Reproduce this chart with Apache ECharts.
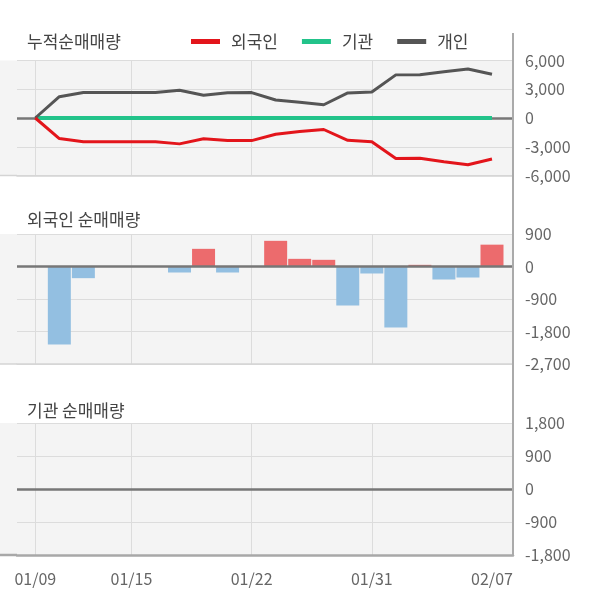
<!DOCTYPE html>
<html>
<head>
<meta charset="utf-8">
<script src="https://cdn.jsdelivr.net/npm/echarts@6/dist/echarts.min.js"></script>
<style>
html,body{margin:0;padding:0;background:#fff;}
#chart{width:600px;height:604px;}
</style>
</head>
<body>
<div id="chart"></div>
<script>
// ---- data ----
const dates = ['01/09','01/10','01/13','01/14','01/15','01/16','01/17','01/20','01/21','01/22',
               '01/23','01/28','01/29','01/30','01/31','02/03','02/04','02/05','02/06','02/07'];
const labelIdx = [0, 4, 9, 14, 19];
const gridIdx = [0, 4, 9, 14];

const foreignCum = [0, -2150, -2470, -2470, -2470, -2470, -2700, -2170, -2360, -2360,
                    -1700, -1420, -1200, -2330, -2470, -4220, -4200, -4560, -4880, -4280];
const institutionCum = [0, 0, 0, 0, 0, 0, 0, 0, 0, 0, 0, 0, 0, 0, 0, 0, 0, 0, 0, 0];
const individualCum = [0, 2220, 2660, 2660, 2660, 2660, 2900, 2380, 2640, 2650,
                       1880, 1640, 1380, 2620, 2720, 4500, 4520, 4830, 5110, 4560];

const foreignDaily = [0, -2162, -323, 0, 0, 0, -166, 489, -166, 0,
                      711, 212, 185, -1080, -194, -1689, 46, -360, -305, 605];
const institutionDaily = [0, 0, 0, 0, 0, 0, 0, 0, 0, 0, 0, 0, 0, 0, 0, 0, 0, 0, 0, 0];

const ticksTop = [-6000, 6000, 3000];
const ticksMid = [-2700, 900, 900];
const ticksBot = [-1800, 1800, 900];

const seriesNames = ['외국인', '기관', '개인'];
const titles = ['누적순매매량', '외국인 순매매량', '기관 순매매량'];

// ---- styles ----
const FONT = 'Noto Sans CJK KR';
const BG = '#f4f4f4';
const GRID_LINE = '#dcdcdc';
const RED = '#e3151b', GREEN = '#22c38a', GRAY = '#555555';
const BAR_POS = '#ec6b6d', BAR_NEG = '#93bfe1';

const grids = [
  {left: 17, right: 87, top: 60.5, height: 115},
  {left: 17, right: 87, top: 234, height: 130},
  {left: 17, right: 87, top: 423, height: 132}
];

function pairs(arr) { return arr.map((v, i) => [i, v]); }

function xAxisFor(gi, showLabel, borderColor, borderWidth) {
  return {
    type: 'value', gridIndex: gi, min: -0.761, max: 19.874,
    axisLine: {show: true, onZero: false, lineStyle: {color: borderColor, width: borderWidth}},
    axisTick: {show: false, customValues: gridIdx},
    splitLine: {show: true, lineStyle: {color: GRID_LINE, width: 1}},
    axisLabel: {
      show: showLabel, customValues: labelIdx, margin: 16,
      color: '#666', fontSize: 16, fontFamily: FONT,
      formatter: v => dates[Math.round(v)]
    }
  };
}
function yAxisFor(gi, t) {
  return {
    type: 'value', gridIndex: gi, position: 'right',
    min: t[0], max: t[1], interval: t[2],
    axisLine: {show: false}, axisTick: {show: false},
    splitLine: {show: true, lineStyle: {color: GRID_LINE, width: 1}},
    axisLabel: {
      margin: 12, color: '#666', fontSize: 16, fontFamily: FONT,
      formatter: v => v.toLocaleString('en-US')
    }
  };
}
function zeroLine(xi, z) {
  return {
    type: 'line', xAxisIndex: xi, yAxisIndex: xi, data: [], z: z, silent: true,
    markLine: {
      z: z, silent: true, symbol: ['none', 'none'], label: {show: false},
      lineStyle: {color: '#777', width: 2.5, type: 'solid'},
      emphasis: {disabled: true},
      data: [{yAxis: 0}]
    }
  };
}
function lineSeries(name, data, color, width) {
  return {
    name: name, type: 'line', xAxisIndex: 0, yAxisIndex: 0, data: pairs(data),
    showSymbol: false, symbol: 'none', z: 3, color: color,
    lineStyle: {color: color, width: width}, itemStyle: {color: color}
  };
}
function barSeries(name, data, xi) {
  return {
    name: name, type: 'bar', xAxisIndex: xi, yAxisIndex: xi, data: pairs(data),
    barWidth: 23, z: 2,
    itemStyle: {color: p => (p.value[1] >= 0 ? BAR_POS : BAR_NEG)}
  };
}

const chart = echarts.init(document.getElementById('chart'), null, {renderer: 'canvas'});
chart.setOption({
  backgroundColor: '#fff',
  animation: false,
  textStyle: {fontFamily: FONT},
  title: [
    {text: titles[0], left: 22, top: 27},
    {text: titles[1], left: 22, top: 205},
    {text: titles[2], left: 22, top: 396}
  ].map(t => Object.assign(t, {textStyle: {fontSize: 17, fontWeight: 'normal', color: '#444', fontFamily: FONT, lineHeight: 20}})),
  legend: {
    data: seriesNames, left: 186, top: 28, icon: 'rect',
    itemWidth: 29, itemHeight: 5, itemGap: 24,
    textStyle: {fontSize: 17, color: '#444', fontFamily: FONT, padding: [0, 0, 0, 6]}
  },
  grid: grids.map(g => Object.assign({show: true, backgroundColor: BG, borderWidth: 0}, g)),
  xAxis: [
    xAxisFor(0, false, '#d4d4d4', 1.5),
    xAxisFor(1, false, '#d4d4d4', 1.5),
    xAxisFor(2, true, '#a8a8a8', 2.5)
  ],
  yAxis: [yAxisFor(0, ticksTop), yAxisFor(1, ticksMid), yAxisFor(2, ticksBot)],
  graphic: [
    {type: 'rect', shape: {x: 0, y: 60.5, width: 17, height: 115}, style: {fill: BG}, silent: true},
    {type: 'rect', shape: {x: 0, y: 234, width: 17, height: 130}, style: {fill: BG}, silent: true},
    {type: 'rect', shape: {x: 0, y: 423, width: 17, height: 132}, style: {fill: BG}, silent: true},
    {type: 'line', shape: {x1: 0, y1: 175.5, x2: 17, y2: 175.5}, style: {stroke: '#d4d4d4', lineWidth: 1.5}, silent: true},
    {type: 'line', shape: {x1: 0, y1: 364, x2: 17, y2: 364}, style: {stroke: '#d4d4d4', lineWidth: 1.5}, silent: true},
    {type: 'line', shape: {x1: 0, y1: 555, x2: 17, y2: 555}, style: {stroke: '#a8a8a8', lineWidth: 2.5}, silent: true},
    {type: 'line', shape: {x1: 513, y1: 33, x2: 513, y2: 556}, style: {stroke: '#aaaaaa', lineWidth: 2}, silent: true, z: 10}
  ],
  series: [
    zeroLine(0, 1),
    lineSeries(seriesNames[1], institutionCum, GREEN, 4),
    lineSeries(seriesNames[2], individualCum, GRAY, 3),
    lineSeries(seriesNames[0], foreignCum, RED, 3),
    barSeries('외국인 순매매량', foreignDaily, 1),
    zeroLine(1, 3),
    barSeries('기관 순매매량', institutionDaily, 2),
    zeroLine(2, 3)
  ]
});
</script>
</body>
</html>
